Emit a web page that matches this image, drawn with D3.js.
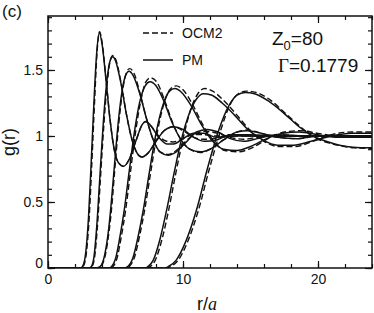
<!DOCTYPE html>
<html><head><meta charset="utf-8">
<script src="https://cdn.jsdelivr.net/npm/d3@7"></script>
<style>body{margin:0;background:#fff}svg{display:block}</style>
</head><body>
<script>
// ---- data (r/a, g(r)) ----
const pm1 = [[0,0],[2.4,0],[2.6,0.02],[2.8,0.12],[3.0,0.38],[3.2,0.80],[3.4,1.25],[3.6,1.62],[3.8,1.78],[4.0,1.70],[4.3,1.42],[4.6,1.12],[4.9,0.90],[5.2,0.80],[5.6,0.77],[6.0,0.82],[6.5,0.96],[7.0,1.09],[7.25,1.11],[7.6,1.08],[8.2,0.99],[8.8,0.94],[9.3,0.94],[10.0,0.98],[10.8,1.02],[11.5,1.02],[12.5,0.99],[14,1.0],[24,1.0]];
const ocm1 = [[0,0],[2.45,0],[2.65,0.02],[2.85,0.12],[3.05,0.38],[3.25,0.80],[3.45,1.26],[3.63,1.63],[3.82,1.79],[4.02,1.70],[4.3,1.43],[4.6,1.12],[4.9,0.90],[5.2,0.80],[5.6,0.77],[6.0,0.82],[6.5,0.96],[7.0,1.09],[7.25,1.11],[7.6,1.08],[8.2,1.0],[8.8,0.96],[9.3,0.955],[10.0,0.98],[10.8,1.01],[11.5,1.01],[12.5,1.0],[14,1.0],[24,1.0]];
const pm2 = [[0,0],[3.0,0],[3.2,0.01],[3.4,0.08],[3.6,0.30],[3.8,0.62],[4.0,0.95],[4.2,1.24],[4.4,1.45],[4.6,1.57],[4.8,1.60],[5.0,1.57],[5.4,1.40],[5.8,1.17],[6.2,0.98],[6.6,0.87],[6.95,0.84],[7.4,0.87],[8.0,0.96],[8.6,1.04],[9.3,1.07],[10.0,1.05],[10.8,0.99],[11.6,0.96],[12.5,0.97],[13.5,1.01],[15,1.01],[17,1.0],[24,1.0]];
const ocm2 = [[0,0],[3.05,0],[3.25,0.01],[3.45,0.08],[3.65,0.30],[3.85,0.62],[4.05,0.95],[4.25,1.24],[4.45,1.46],[4.63,1.58],[4.82,1.61],[5.02,1.58],[5.4,1.41],[5.8,1.17],[6.2,0.98],[6.6,0.87],[6.95,0.84],[7.4,0.87],[8.0,0.96],[8.6,1.04],[9.3,1.07],[10.0,1.04],[10.8,0.99],[11.6,0.975],[12.5,0.985],[13.5,1.01],[15,1.0],[17,1.0],[24,1.0]];
const pm3 = [[0,0],[3.6,0],[3.85,0.01],[4.2,0.10],[4.5,0.30],[4.64,0.44],[4.9,0.75],[5.2,1.10],[5.5,1.35],[5.8,1.47],[6.0,1.49],[6.3,1.46],[6.8,1.32],[7.3,1.13],[7.8,0.97],[8.3,0.88],[8.9,0.855],[9.5,0.88],[10.3,0.96],[11.0,1.03],[11.8,1.05],[12.6,1.03],[13.5,0.98],[14.5,0.96],[15.5,0.98],[17,1.01],[19,1.0],[24,1.0]];
const ocm3 = [[0,0],[3.65,0],[3.9,0.01],[4.25,0.10],[4.55,0.30],[4.7,0.44],[4.95,0.75],[5.25,1.10],[5.55,1.36],[5.85,1.49],[6.05,1.51],[6.35,1.48],[6.8,1.33],[7.3,1.13],[7.8,0.97],[8.3,0.88],[8.9,0.86],[9.5,0.89],[10.3,0.97],[11.0,1.02],[11.8,1.035],[12.6,1.02],[13.5,0.99],[14.5,0.975],[15.5,0.99],[17,1.01],[19,1.0],[24,1.0]];
const pm4 = [[0,0],[4.5,0],[4.7,0.01],[5.0,0.07],[5.3,0.22],[5.65,0.44],[6.0,0.72],[6.4,1.03],[6.8,1.26],[7.2,1.38],[7.55,1.41],[8.0,1.38],[8.6,1.26],[9.2,1.10],[9.8,0.98],[10.5,0.90],[11.3,0.88],[12.0,0.90],[13.0,0.97],[14.0,1.03],[14.8,1.04],[15.8,1.02],[17,0.99],[18.5,0.98],[20,1.0],[24,1.0]];
const ocm4 = [[0,0],[4.6,0],[4.8,0.01],[5.1,0.07],[5.4,0.22],[5.75,0.44],[6.1,0.72],[6.5,1.04],[6.9,1.28],[7.25,1.41],[7.6,1.44],[8.05,1.41],[8.6,1.28],[9.2,1.11],[9.8,0.98],[10.5,0.90],[11.3,0.875],[12.0,0.90],[13.0,0.97],[14.0,1.03],[14.8,1.045],[15.8,1.02],[17,0.99],[18.5,0.98],[20,1.0],[24,1.0]];
const pm5 = [[0,0],[5.7,0],[5.9,0.01],[6.3,0.08],[6.7,0.25],[7.06,0.44],[7.5,0.72],[8.0,1.02],[8.5,1.23],[9.0,1.34],[9.4,1.36],[9.9,1.33],[10.6,1.23],[11.4,1.08],[12.2,0.96],[13.0,0.90],[14.0,0.89],[15.0,0.92],[16.2,0.98],[17.4,1.02],[18.6,1.03],[20,1.01],[21.5,0.99],[24,0.99]];
const ocm5 = [[0,0],[5.8,0],[6.0,0.01],[6.4,0.08],[6.8,0.25],[7.16,0.44],[7.6,0.72],[8.1,1.03],[8.6,1.25],[9.1,1.36],[9.5,1.38],[10.0,1.35],[10.7,1.24],[11.5,1.08],[12.3,0.96],[13.1,0.89],[14.1,0.88],[15.1,0.91],[16.3,0.98],[17.5,1.03],[18.7,1.04],[20,1.02],[21.5,1.0],[24,0.99]];
const pm6 = [[0,0],[7.2,0],[7.4,0.01],[7.8,0.06],[8.3,0.22],[8.79,0.44],[9.3,0.70],[9.9,0.98],[10.5,1.18],[11.0,1.28],[11.5,1.32],[12.1,1.31],[12.9,1.25],[13.8,1.16],[14.8,1.05],[15.9,0.97],[17.0,0.93],[18.2,0.93],[19.5,0.96],[21,1.0],[22.5,1.02],[24,1.02]];
const ocm6 = [[0,0],[7.35,0],[7.55,0.01],[7.95,0.06],[8.45,0.22],[8.94,0.44],[9.45,0.71],[10.05,1.0],[10.6,1.21],[11.1,1.32],[11.6,1.36],[12.2,1.34],[13.0,1.27],[13.9,1.17],[14.9,1.05],[16.0,0.96],[17.1,0.92],[18.3,0.92],[19.6,0.96],[21,1.01],[22.5,1.03],[24,1.03]];
const pm7 = [[0,0],[8.7,0],[8.9,0.01],[9.5,0.06],[10.2,0.20],[11.0,0.44],[11.8,0.75],[12.6,1.03],[13.4,1.23],[14.0,1.31],[14.6,1.33],[15.3,1.32],[16.4,1.26],[17.5,1.17],[18.6,1.07],[19.6,1.0],[20.6,0.96],[21.6,0.93],[22.6,0.915],[24,0.91]];
const ocm7 = [[0,0],[8.85,0],[9.05,0.01],[9.65,0.06],[10.35,0.20],[11.15,0.44],[11.95,0.75],[12.75,1.03],[13.5,1.24],[14.1,1.32],[14.7,1.34],[15.4,1.33],[16.5,1.27],[17.6,1.17],[18.7,1.07],[19.7,0.99],[20.7,0.95],[21.7,0.925],[22.7,0.91],[24,0.905]];
const pmCurves = [pm1, pm2, pm3, pm4, pm5, pm6, pm7];
const ocmCurves = [ocm1, ocm2, ocm3, ocm4, ocm5, ocm6, ocm7];
const xMajor = [0, 10, 20];
const yMajor = [0, 0.5, 1, 1.5];
const legendLabels = ["OCM2", "PM"];

// ---- layout ----
const W = 374, H = 313;
const m = {left: 48, right: 2, top: 16, bottom: 45};
const svg = d3.select("body").append("svg").attr("width", W).attr("height", H);
const x = d3.scaleLinear().domain([0, 24]).range([m.left, W - m.right]);
const y = d3.scaleLinear().domain([0, 1.909]).range([H - m.bottom, m.top]);
const font = "'Liberation Sans', Arial, Helvetica, sans-serif";
const ink = "#111";

svg.append("clipPath").attr("id", "clip").append("rect")
  .attr("x", x(0)).attr("y", y(1.909)).attr("width", x(24) - x(0)).attr("height", y(0) - y(1.909));

const line = d3.line().x(d => x(d[0])).y(d => y(d[1])).curve(d3.curveMonotoneX);
const gCurves = svg.append("g").attr("clip-path", "url(#clip)");
gCurves.selectAll("path.ocm").data(ocmCurves).join("path").attr("class", "ocm")
  .attr("d", line).attr("fill", "none").attr("stroke", ink).attr("stroke-width", 1.4)
  .attr("stroke-dasharray", "6,3");
gCurves.selectAll("path.pm").data(pmCurves).join("path").attr("class", "pm")
  .attr("d", line).attr("fill", "none").attr("stroke", ink).attr("stroke-width", 1.5);

// ---- axes ----
const xMinor = d3.range(0, 24.01, 2);
const yMinor = d3.range(0, 1.901, 0.1);
function addTicks(axisGen, transform) {
  return svg.append("g").attr("transform", transform).call(axisGen)
    .call(g => g.select(".domain").remove())
    .call(g => g.selectAll("line").attr("stroke", ink).attr("stroke-width", 1.2));
}
addTicks(d3.axisBottom(x).tickValues(xMinor).tickSize(-4).tickFormat(""), `translate(0,${y(0)})`);
addTicks(d3.axisTop(x).tickValues(xMinor).tickSize(-4).tickFormat(""), `translate(0,${y(1.909)})`);
addTicks(d3.axisLeft(y).tickValues(yMinor).tickSize(-4).tickFormat(""), `translate(${x(0)},0)`);
addTicks(d3.axisRight(y).tickValues(yMinor).tickSize(-4).tickFormat(""), `translate(${x(24)},0)`);
const xa = addTicks(d3.axisBottom(x).tickValues(xMajor).tickSize(-7).tickPadding(6).tickFormat(d3.format("d")), `translate(0,${y(0)})`);
xa.selectAll("text").attr("font-family", font).attr("font-size", 14).attr("fill", ink);
addTicks(d3.axisTop(x).tickValues(xMajor).tickSize(-7).tickFormat(""), `translate(0,${y(1.909)})`);
const ya = addTicks(d3.axisLeft(y).tickValues(yMajor).tickSize(-7).tickPadding(5).tickFormat(d => d === 0 ? "0" : d === 1 ? "1" : d3.format(".1f")(d)), `translate(${x(0)},0)`);
ya.selectAll("text").attr("font-family", font).attr("font-size", 14).attr("fill", ink);
ya.selectAll("text").filter(d => d === 0).attr("y", -5);
addTicks(d3.axisRight(y).tickValues(yMajor).tickSize(-7).tickFormat(""), `translate(${x(24)},0)`);

svg.append("rect").attr("x", x(0)).attr("y", y(1.909)).attr("width", x(24) - x(0)).attr("height", y(0) - y(1.909))
  .attr("fill", "none").attr("stroke", ink).attr("stroke-width", 1.5);

// ---- labels ----
svg.append("text").attr("x", 2).attr("y", 17).attr("font-family", font).attr("font-size", 17).attr("fill", ink).text("(c)");
svg.append("text").attr("transform", `translate(15,${(y(0) + y(1.909)) / 2}) rotate(-90)`).attr("text-anchor", "middle")
  .attr("font-family", font).attr("font-size", 18).attr("fill", ink).text("g(r)");
const xl = svg.append("text").attr("x", 207).attr("y", 310).attr("text-anchor", "middle")
  .attr("font-family", font).attr("font-size", 18).attr("fill", ink);
xl.append("tspan").text("r/");
xl.append("tspan").attr("font-family", "'Liberation Serif', 'Times New Roman', serif").attr("font-style", "italic").text("a");

const leg = svg.append("g");
legendLabels.forEach((lab, i) => {
  const ly = 33 + i * 27;
  leg.append("line").attr("x1", 143).attr("x2", 173).attr("y1", ly).attr("y2", ly)
    .attr("stroke", ink).attr("stroke-width", 1.5).attr("stroke-dasharray", i === 0 ? "6,3" : null);
  leg.append("text").attr("x", 182).attr("y", ly + 5).attr("font-family", font).attr("font-size", 14).attr("fill", ink).text(lab);
});

const z = svg.append("text").attr("x", 272).attr("y", 45).attr("font-family", font).attr("font-size", 19).attr("fill", ink);
z.append("tspan").text("Z");
z.append("tspan").attr("font-size", 13).attr("dy", 5).text("0");
z.append("tspan").attr("dy", -5).text("=80");
const gm = svg.append("text").attr("x", 278).attr("y", 72).attr("font-family", font).attr("font-size", 19).attr("fill", ink);
gm.append("tspan").attr("font-family", "'Liberation Serif', 'Times New Roman', serif").text("Γ");
gm.append("tspan").text("=0.1779");
</script>
</body></html>
